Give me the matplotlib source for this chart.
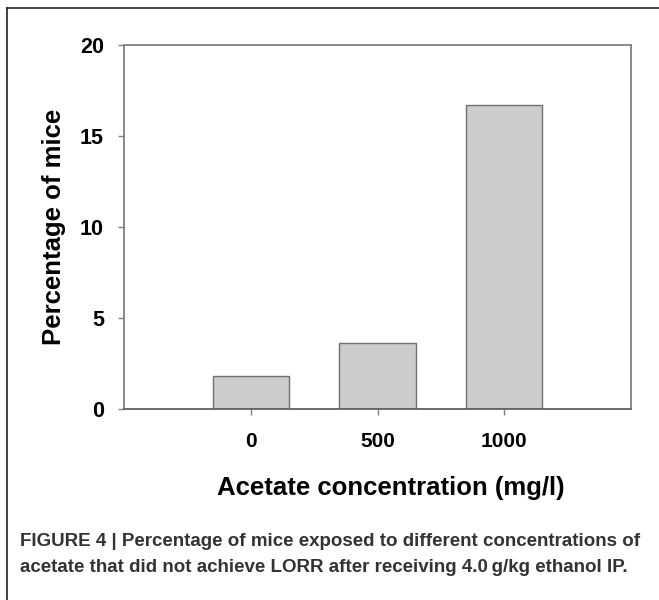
import matplotlib
matplotlib.use('Agg')
import matplotlib.pyplot as plt
from matplotlib.lines import Line2D

# ============================================================
# DATA
# ============================================================
categories = ["0", "500", "1000"]
percent_mice = [1.8, 3.6, 16.7]
y_ticks = [0, 5, 10, 15, 20]

caption_1 = "FIGURE 4 | Percentage of mice exposed to different concentrations of"
caption_2 = "acetate that did not achieve LORR after receiving 4.0\u2009g/kg ethanol IP."

plt.rcParams['font.family'] = ['Liberation Sans', 'DejaVu Sans']

fig = plt.figure(figsize=(6.59, 6.0), dpi=100)
ax = fig.add_axes([124 / 659, 1 - 409 / 600, (631 - 124) / 659, (409 - 45) / 600])

x = list(range(len(categories)))
ax.bar(x, percent_mice, width=0.6, color='#cccccc', edgecolor='#707070', linewidth=1.0, zorder=2)

ax.set_xlim(-1, 3)
ax.set_ylim(0, 20)
ax.set_yticks(y_ticks)
ax.set_yticklabels([str(t) for t in y_ticks], fontsize=15.5, fontweight='bold')
ax.set_xticks(x)
ax.set_xticklabels(categories, fontsize=15, fontweight='bold')

for side in ['left', 'right', 'top', 'bottom']:
  ax.spines[side].set_color('#808080')
  ax.spines[side].set_linewidth(1.3)
ax.spines['bottom'].set_color('#606060')

ax.tick_params(axis='y', length=4.5, width=1.0, color='#808080', pad=10)
ax.tick_params(axis='x', length=4, width=1.0, color='#808080', pad=12.5)

ax.set_xlabel('Acetate concentration (mg/l)', fontsize=18.5, fontweight='bold')
ax.xaxis.set_label_coords(0.527, -0.185)
ax.set_ylabel('Percentage of mice', fontsize=18.5, fontweight='bold', labelpad=10)

# outer frame (left and top edges only)
fig.add_artist(Line2D([7 / 659, 7 / 659], [0, 1 - 8 / 600], transform=fig.transFigure, color='#222222', lw=1.2))
fig.add_artist(Line2D([7 / 659, 1], [1 - 8 / 600, 1 - 8 / 600], transform=fig.transFigure, color='#222222', lw=1.2))

cap_font = ['Liberation Sans Narrow', 'Liberation Sans', 'DejaVu Sans']
fig.text(20 / 659, 1 - 541 / 600, caption_1, fontsize=13.5, fontweight='bold', color='#333333',
         family=cap_font, va='center', ha='left')
fig.text(20 / 659, 1 - 568 / 600, caption_2, fontsize=13.5, fontweight='bold', color='#333333',
         family=cap_font, va='center', ha='left')

plt.savefig('out.png', dpi=100)
